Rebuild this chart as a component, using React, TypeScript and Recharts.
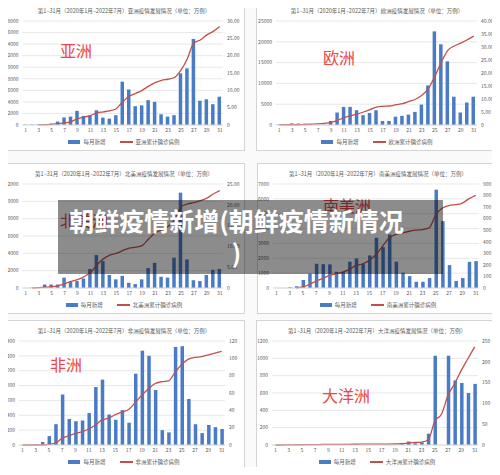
import { ComposedChart, Bar, Line, XAxis, YAxis, CartesianGrid, Legend } from 'recharts';

const months = [1, 2, 3, 4, 5, 6, 7, 8, 9, 10, 11, 12, 13, 14, 15, 16, 17, 18, 19, 20, 21, 22, 23, 24, 25, 26, 27, 28, 29, 30, 31];

// 每月新增 / 累计确诊 (万例)
const asiaNew = [50, 80, 100, 50, 250, 600, 1300, 1450, 2450, 1570, 1680, 2550, 1280, 1100, 1700, 7500, 6150, 3250, 3400, 4300, 4000, 1850, 1450, 1700, 8950, 9800, 14900, 4200, 4450, 3600, 4900];
const asiaTotal = [null, null, 0.05, 0.1, 0.2, 0.4, 0.6, 1.0, 1.8, 2.3, 2.7, 3.5, 3.8, 4.1, 4.7, 6.7, 8.3, 9.1, 10, 11.2, 12.2, 12.9, 13.2, 13.7, 15.8, 19.2, 23.7, 24.5, 26, 27, 28.4];

const europeNew = [100, 200, 400, 350, 300, 50, 50, 50, 970, 3000, 4350, 4350, 3550, 2350, 2900, 3550, 970, 970, 2000, 2200, 2500, 3150, 4900, 9500, 22500, 19400, 15300, 6800, 3000, 5400, 6800];
const europeTotal = [0.1, 0.1, 0.1, 0.1, 0.2, 0.3, 0.4, 0.6, 1.0, 1.8, 2.8, 3.6, 4.2, 5.0, 5.9, 6.9, 7.2, 7.3, 7.8, 8.2, 9.1, 9.9, 11.4, 14, 18.7, 24.2, 28.7, 30.4, 31.5, 32.8, 34.2];

const naNew = [0, 30, 100, 400, 400, 400, 1200, 700, 800, 1100, 2200, 3800, 3100, 1500, 1000, 1400, 600, 450, 1000, 2300, 2900, 1300, 1200, 3500, 11000, 3300, 900, 800, 1500, 2100, 2200];
const naTotal = [null, 0, 0.1, 0.2, 0.3, 0.5, 1.0, 1.6, 2.0, 2.7, 3.7, 5.5, 7.0, 7.9, 8.3, 9.0, 9.6, 9.8, 10.2, 11.8, 13.2, 14.0, 14.8, 16.5, 19.5, 20.2, 20.5, 21.0, 21.6, 22.6, 23.4];

const saNew = [0, 0, 50, 120, 540, 960, 1630, 1600, 1590, 1090, 1090, 1770, 1990, 1630, 2190, 3380, 2750, 3600, 1770, 1030, 800, 420, 420, 670, 6620, 4500, 1540, 470, 670, 1760, 1810];
const saTotal = [null, null, null, 0, 9, 32, 60, 83, 109, 123, 138, 161, 195, 210, 239, 290, 362, 434, 463, 477, 491, 500, 506, 520, 635, 692, 713, 722, 735, 773, 802];

const africaNew = [0, 0, 10, 40, 120, 280, 680, 350, 320, 330, 430, 780, 880, 410, 340, 470, 300, 960, 1270, 1200, 740, 200, 170, 1320, 1330, 620, 280, 160, 270, 240, 215];
const africaTotal = [0, 0, 0, 0, 0.8, 2.3, 7.7, 10.8, 13.5, 15.4, 18.5, 23, 29, 31, 35, 38, 41, 49, 57.7, 65, 71, 73, 74, 84, 93, 99, 101, 102, 104, 106, 108];

const oceaniaNew = [0, 0, 10, 10, 0, 10, 10, 10, 10, 2, 2, 2, 2, 2, 2, 2, 2, 2, 5, 10, 40, 20, 30, 130, 1030, 0, 1030, 745, 715, 600, 705];
const oceaniaTotal = [0, 0, 0.3, 0.5, 0.6, 0.8, 1, 1.2, 1.4, 1.5, 1.6, 1.7, 1.8, 1.9, 2, 2.1, 2.2, 2.3, 2.6, 3, 5, 6, 7, 12, 57.6, 74, 120, 148, 180, 208, 236];

// axis ticks
const asiaLeft = [0, 2000, 4000, 6000, 8000, 10000, 12000, 14000, 16000, 18000];
const asiaRight = [0, 5, 10, 15, 20, 25, 30];
const europeLeft = [0, 5000, 10000, 15000, 20000, 25000];
const europeRight = [0, 5, 10, 15, 20, 25, 30, 35, 40];
const naLeft = [0, 2000, 4000, 6000, 8000, 10000, 12000];
const naRight = [0, 5, 10, 15, 20, 25];
const saLeft = [0, 1000, 2000, 3000, 4000, 5000, 6000, 7000];
const saRight = [0, 100, 200, 300, 400, 500, 600, 700, 800, 900];
const africaLeft = [0, 200, 400, 600, 800, 1000, 1200, 1400];
const africaRight = [0, 20, 40, 60, 80, 100, 120];
const oceaniaLeft = [0, 200, 400, 600, 800, 1000, 1200];
const oceaniaRight = [0, 50, 100, 150, 200, 250];

const BLUE = '#4a7bc5';
const RED = '#c0504d';
const GRID = '#d9d9d9';
const TXT = '#595959';
const FONT = '"Noto Sans CJK SC", "Noto Sans", sans-serif';

const dec2 = (v: number) => (v === 0 ? '0' : v.toFixed(2));
const plain = (v: number) => String(v);

function LegendBox({ name }: { name: string }) {
  return (
    <div style={{ height: 14, display: 'flex', justifyContent: 'center', alignItems: 'center', gap: 14, fontSize: 5.5, color: TXT, fontFamily: FONT }}>
      <span style={{ display: 'flex', alignItems: 'center', gap: 3 }}>
        <span style={{ width: 12, height: 3.5, background: BLUE, display: 'inline-block' }} />
        每月新增
      </span>
      <span style={{ display: 'flex', alignItems: 'center', gap: 3 }}>
        <span style={{ width: 13, height: 1.5, background: RED, display: 'inline-block' }} />
        {name}
      </span>
    </div>
  );
}

type PanelProps = {
  x: number; y: number; region: string; label: string;
  labelX: number; labelY: number;
  added: number[]; total: (number | null)[];
  leftTicks: number[]; rightTicks: number[];
  leftW: number; rightW: number; rightFmt: (v: number) => string;
};

function Panel(p: PanelProps) {
  const data = months.map((m, i) => ({ month: m, add: p.added[i], total: p.total[i] }));
  return (
    <div style={{ position: 'absolute', left: p.x, top: p.y, width: 242, height: 151, boxSizing: 'border-box', border: '1px solid #d4d4d4', background: '#fff', fontFamily: FONT }}>
      <div style={{ position: 'absolute', left: 0, right: 0, top: 6, textAlign: 'center', fontSize: 5.5, color: TXT, lineHeight: '8px', whiteSpace: 'nowrap' }}>
        第1~31月（2020年1月~2022年7月）{p.region}疫情发展情况（单位：万例）
      </div>
      <ComposedChart width={240} height={149} data={data} margin={{ top: 20, right: 0, bottom: 1, left: 0 }} style={{ fontFamily: FONT }}>
        <CartesianGrid yAxisId="l" vertical={false} stroke={GRID} strokeWidth={0.6} />
        <XAxis dataKey="month" interval={1} height={10} tickSize={0} tickMargin={3} tickLine={false}
          axisLine={{ stroke: GRID }} tick={{ fontSize: 5, fill: TXT }} />
        <YAxis yAxisId="l" orientation="left" width={p.leftW} ticks={p.leftTicks}
          domain={[0, p.leftTicks[p.leftTicks.length - 1]]} interval={0} tickSize={0} tickMargin={4}
          tickLine={false} axisLine={false} tick={{ fontSize: 5, fill: TXT }} tickFormatter={plain} />
        <YAxis yAxisId="r" orientation="right" width={p.rightW} ticks={p.rightTicks}
          domain={[0, p.rightTicks[p.rightTicks.length - 1]]} interval={0} tickSize={0} tickMargin={4}
          tickLine={false} axisLine={false} tick={{ fontSize: 5, fill: TXT }} tickFormatter={p.rightFmt} />
        <Legend verticalAlign="bottom" content={() => <LegendBox name={`${p.region}累计确诊病例`} />} />
        <Bar yAxisId="l" dataKey="add" fill={BLUE} barSize={3.5} isAnimationActive={false} />
        <Line yAxisId="r" dataKey="total" type="monotone" stroke={RED} strokeWidth={1.3} dot={false} isAnimationActive={false} />
      </ComposedChart>
      <div style={{ position: 'absolute', left: p.labelX, top: p.labelY, fontSize: 16, lineHeight: '16px', color: '#ec4646', whiteSpace: 'nowrap' }}>
        {p.label}
      </div>
    </div>
  );
}

export default function App() {
  return (
    <div style={{ position: 'relative', width: 500, height: 475, margin: -8, background: '#fafafa', overflow: 'hidden' }}>
      <Panel x={3} y={0} region="亚洲" label="亚洲" labelX={56} labelY={41}
        added={asiaNew} total={asiaTotal} leftTicks={asiaLeft} rightTicks={asiaRight} leftW={18.5} rightW={21} rightFmt={dec2} />
      <Panel x={256} y={0} region="欧洲" label="欧洲" labelX={66} labelY={48}
        added={europeNew} total={europeTotal} leftTicks={europeLeft} rightTicks={europeRight} leftW={19} rightW={20} rightFmt={dec2} />
      <Panel x={3} y={163} region="北美洲" label="北美洲" labelX={56} labelY={48}
        added={naNew} total={naTotal} leftTicks={naLeft} rightTicks={naRight} leftW={18.5} rightW={21} rightFmt={dec2} />
      <Panel x={257} y={163} region="南美洲" label="南美洲" labelX={65} labelY={33}
        added={saNew} total={saTotal} leftTicks={saLeft} rightTicks={saRight} leftW={15} rightW={19} rightFmt={plain} />
      <Panel x={3} y={320} region="非洲" label="非洲" labelX={46} labelY={35}
        added={africaNew} total={africaTotal} leftTicks={africaLeft} rightTicks={africaRight} leftW={15} rightW={19} rightFmt={plain} />
      <Panel x={256} y={320} region="大洋洲" label="大洋洲" labelX={65} labelY={66}
        added={oceaniaNew} total={oceaniaTotal} leftTicks={oceaniaLeft} rightTicks={oceaniaRight} leftW={15} rightW={19} rightFmt={plain} />

      <div style={{ position: 'absolute', left: 58, top: 200, width: 385, height: 74, background: 'rgba(0,0,0,0.45)' }} />
      <div style={{ position: 'absolute', left: 66, top: 204, width: 341, textAlign: 'center', color: '#fff', fontFamily: FONT, fontWeight: 700, fontSize: 25, lineHeight: '32px' }}>
        <div style={{ whiteSpace: 'nowrap' }}>朝鲜疫情新增(朝鲜疫情新情况</div>
        <div>)</div>
      </div>
    </div>
  );
}
